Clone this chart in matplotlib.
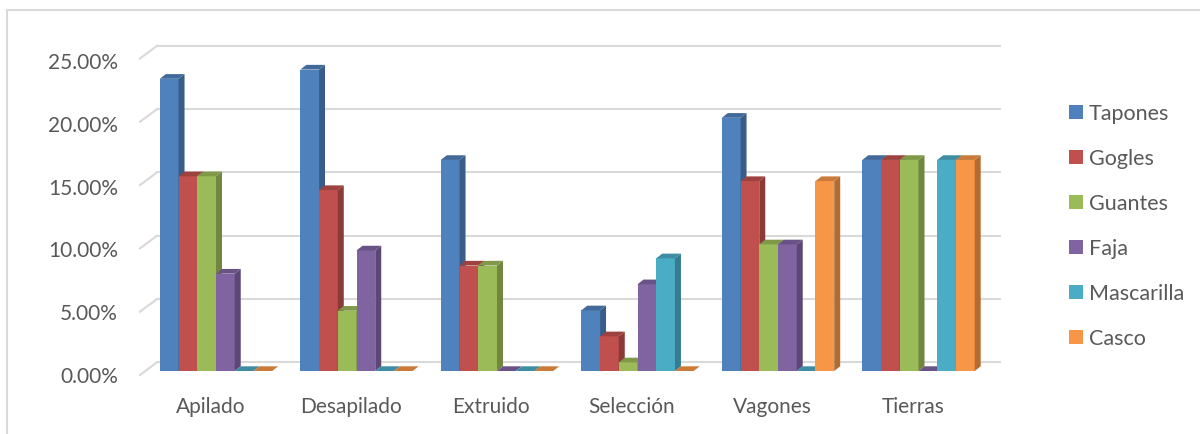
import matplotlib
matplotlib.use("Agg")
import matplotlib.pyplot as plt
from matplotlib.patches import Polygon, Patch
from matplotlib.lines import Line2D
from matplotlib.colors import to_rgb

# Datos (porcentaje)
categorias = ['Apilado', 'Desapilado', 'Extruido', 'Selección', 'Vagones', 'Tierras']
series = ['Tapones', 'Gogles', 'Guantes', 'Faja', 'Mascarilla', 'Casco']
tapones = [23.08, 23.81, 16.67, 4.79, 20.00, 16.67]
gogles = [15.38, 14.29, 8.33, 2.74, 15.00, 16.67]
guantes = [15.38, 4.76, 8.33, 0.68, 10.00, 16.67]
faja = [7.69, 9.52, 0.00, 6.85, 10.00, 0.00]
mascarilla = [0.00, 0.00, 0.00, 8.90, 0.00, 16.67]
casco = [0.00, 0.00, 0.00, 0.00, 15.00, 16.67]
valores = [tapones, gogles, guantes, faja, mascarilla, casco]
colores = ['#4F81BD', '#C0504D', '#9BBB59', '#8064A2', '#4BACC6', '#F79646']
ticks_y = [0, 5, 10, 15, 20, 25]

plt.rcParams['font.family'] = ['Lato', 'DejaVu Sans']
GRIS_TXT = '#595959'
GRIS_LIN = '#D9D9D9'

# Escala de la figura (px por unidad)
W, H = 1200, 435
PX_CAT, PX_PCT = 140.5, 12.66
X0, Y0 = 145.75, 372.0

fig = plt.figure(figsize=(W / 100, H / 100), dpi=100)
ax = fig.add_axes([0, 0, 1, 1])
ax.set_xlim(-0.5 - X0 / PX_CAT, -0.5 + (W - X0) / PX_CAT)
ax.set_ylim(-(H - Y0) / PX_PCT, Y0 / PX_PCT)
ax.axis('off')

# Desplazamientos de profundidad (efecto 3D)
bdx, bdy = 11.25 / PX_CAT, 8.7 / PX_PCT     # pared del fondo
fdx, fdy = -5.75 / PX_CAT, -4.0 / PX_PCT    # borde frontal
ddx, ddy = 6.0 / PX_CAT, 4.7 / PX_PCT       # profundidad de la barra

n = len(categorias)
# Lineas de cuadricula (fondo y pared lateral)
for v in ticks_y:
    ax.plot([-0.5 + bdx, n - 0.5 + bdx], [v + bdy, v + bdy], color=GRIS_LIN, lw=1.5, zorder=1)
    ax.plot([-0.5 + fdx, -0.5 + bdx], [v + fdy, v + bdy], color=GRIS_LIN, lw=1.5, zorder=1)
    ax.text(-0.5 + (118 - X0) / PX_CAT, v * 0.99 - 0.37, f'{v:.2f}%', ha='right', va='center',
            fontsize=15, color=GRIS_TXT)

def oscuro(c, f):
    r, g, b = to_rgb(c)
    return (r * f, g * f, b * f)

ancho = 0.8 / len(series)
z = 2
for i in range(n):
    for j, (vals, col) in enumerate(zip(valores, colores)):
        h = vals[i]
        x = i - 0.4 + j * ancho
        ax.bar(x, h, width=ancho, align='edge', color=col, linewidth=0, zorder=z)
        lado = Polygon([(x + ancho, 0), (x + ancho + ddx, ddy), (x + ancho + ddx, h + ddy), (x + ancho, h)],
                       closed=True, facecolor=oscuro(col, 0.72), edgecolor='none', zorder=z + 1)
        tapa = Polygon([(x, h), (x + ddx, h + ddy), (x + ancho + ddx, h + ddy), (x + ancho, h)],
                       closed=True, facecolor=oscuro(col, 0.82), edgecolor='none', zorder=z + 2)
        ax.add_patch(lado)
        ax.add_patch(tapa)
        z += 3
    ax.text(i - 0.04, -2.76, categorias[i], ha='center', va='center', fontsize=15, color=GRIS_TXT)

# Leyenda
handles = [Patch(facecolor=c, edgecolor='none') for c in colores]
fig.legend(handles, series, loc='upper left', bbox_to_anchor=(1069 / W, 1 - 104.5 / H),
           frameon=False, fontsize=15.5, labelcolor=GRIS_TXT, borderpad=0, borderaxespad=0,
           handlelength=0.64, handleheight=0.64, handletextpad=0.28, labelspacing=1.16)

# Marco exterior
fig.add_artist(Line2D([7.3 / W, 7.3 / W, 1], [0, 1 - 10.7 / H, 1 - 10.7 / H],
                      color=GRIS_LIN, lw=1.5, transform=fig.transFigure))

fig.savefig('out.png', dpi=100)
plt.close(fig)
